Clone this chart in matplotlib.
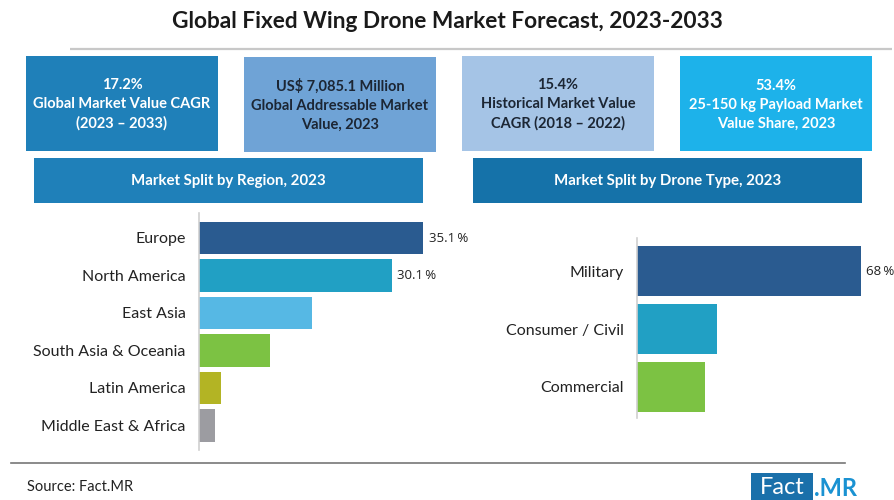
import matplotlib
matplotlib.use("Agg")
import matplotlib.pyplot as plt
from matplotlib.patches import Rectangle

# ---- data ----
regions = ["Europe", "North America", "East Asia", "South Asia & Oceania",
           "Latin America", "Middle East & Africa"]
region_share = [35.1, 30.1, 17.6, 11.1, 3.4, 2.4]
region_labels = ["35.1\u2009%", "30.1\u2009%", None, None, None, None]
region_colors = ["#2a5b90", "#21a0c4", "#56b8e4", "#7cc243", "#b3b424", "#9c9ca1"]

drone_types = ["Military", "Consumer / Civil", "Commercial"]
drone_share = [68, 24.2, 20.7]
drone_labels = ["68\u2009%", None, None]
drone_colors = ["#2a5b90", "#21a0c4", "#7cc243"]

kpi_texts = [
    "17.2%\nGlobal Market Value CAGR\n(2023 \u2013 2033)",
    "US$ 7,085.1 Million\nGlobal Addressable Market\nValue, 2023",
    "15.4%\nHistorical Market Value\nCAGR (2018 \u2013 2022)",
    "53.4%\n25-150 kg Payload Market\nValue Share, 2023",
]
banner_texts = ["Market Split by Region, 2023", "Market Split by Drone Type, 2023"]
title = "Global Fixed Wing Drone Market Forecast, 2023-2033"
source = "Source: Fact.MR"

W, H = 895, 500
fig = plt.figure(figsize=(W / 100, H / 100), dpi=100)
fig.patch.set_facecolor("white")

# full-figure layer in pixel units for boxes and decorations
bg = fig.add_axes([0, 0, 1, 1], zorder=0)
bg.set_xlim(0, W)
bg.set_ylim(H, 0)
bg.axis("off")

BOLD = ["Lato", "DejaVu Sans"]
REG = ["Lato", "DejaVu Sans"]

bg.text(W / 2, 21, title, ha="center", va="center", fontsize=16.3,
        fontweight="bold", color="#1a1a1a", family=BOLD)
bg.plot([70, 892], [49, 49], color="#c8c8c8", lw=1.6, solid_capstyle="butt")

# KPI boxes
kpi_boxes = [(26, 56, 192, 95, "#1f80b9", "white"),
             (244, 57, 192, 95, "#6fa3d6", "#1c2634"),
             (462, 56, 192, 95, "#a5c4e6", "#1c2634"),
             (680, 56, 192, 95, "#1db2ea", "white")]
for (x, y, w, h, fc, tc), txt in zip(kpi_boxes, kpi_texts):
    bg.add_patch(Rectangle((x, y), w, h, facecolor=fc, edgecolor="none"))
    bg.text(x + w / 2, y + h / 2 + 1, txt, ha="center", va="center",
            fontsize=10.5, fontweight="bold", color=tc, family=BOLD,
            linespacing=1.45)

# section banners
banners = [(34, 158, 389, 45, "#1f80b9"), (473, 158, 389, 45, "#1572a9")]
for (x, y, w, h, fc), txt in zip(banners, banner_texts):
    bg.add_patch(Rectangle((x, y), w, h, facecolor=fc, edgecolor="none"))
    bg.text(x + w / 2, y + h / 2, txt, ha="center", va="center",
            fontsize=10.8, fontweight="bold", color="white", family=BOLD)

# footer
bg.plot([11, 845], [463, 463], color="#777777", lw=1.2)
bg.text(27, 487, source, ha="left", va="center", fontsize=10.5,
        color="#222222", family=REG)
bg.add_patch(Rectangle((751, 473), 62, 27, facecolor="#1a70aa", edgecolor="none"))
bg.text(782, 488, "Fact", ha="center", va="center", fontsize=17,
        color="white", family=REG)
bg.text(814, 488, ".MR", ha="left", va="center", fontsize=17,
        fontweight="bold", color="#1a92d2", family=BOLD)


def bar_panel(left_px, top_px, bottom_px, first_c, pitch, x_per_px, xmax,
              cats, vals, labels, colors, height_frac):
    n = len(cats)
    y_top = (top_px - first_c) / pitch
    y_bot = (bottom_px - first_c) / pitch
    width_px = xmax / x_per_px
    ax = fig.add_axes([left_px / W, 1 - bottom_px / H,
                       width_px / W, (bottom_px - top_px) / H], zorder=2)
    ax.patch.set_alpha(0)
    ax.barh(range(n), vals, height=height_frac, color=colors, zorder=2)
    ax.set_ylim(y_bot, y_top)
    ax.set_xlim(0, xmax)
    ax.set_yticks(range(n))
    ax.set_yticklabels(cats, fontsize=11.5, color="#222222", family=REG)
    ax.tick_params(axis="y", length=0, pad=10)
    ax.set_xticks([])
    for s in ("top", "right", "bottom"):
        ax.spines[s].set_visible(False)
    ax.spines["left"].set_color("#d0d0d0")
    ax.spines["left"].set_linewidth(1.2)
    for i, (v, lab) in enumerate(zip(vals, labels)):
        if lab:
            ax.annotate(lab, (v, i), xytext=(4, 0), textcoords="offset points",
                        ha="left", va="center", fontsize=9.5, color="#222222",
                        family=["Open Sans", "DejaVu Sans"])
    return ax


bar_panel(199.5, 213, 450, 238, 37.46, 35.1 / 224, 44,
          regions, region_share, region_labels, region_colors, 0.87)
bar_panel(637.5, 238, 418, 271.3, 57.7, 68 / 223, 76,
          drone_types, drone_share, drone_labels, drone_colors, 0.86)

fig.savefig("out.png", dpi=100, facecolor="white")
